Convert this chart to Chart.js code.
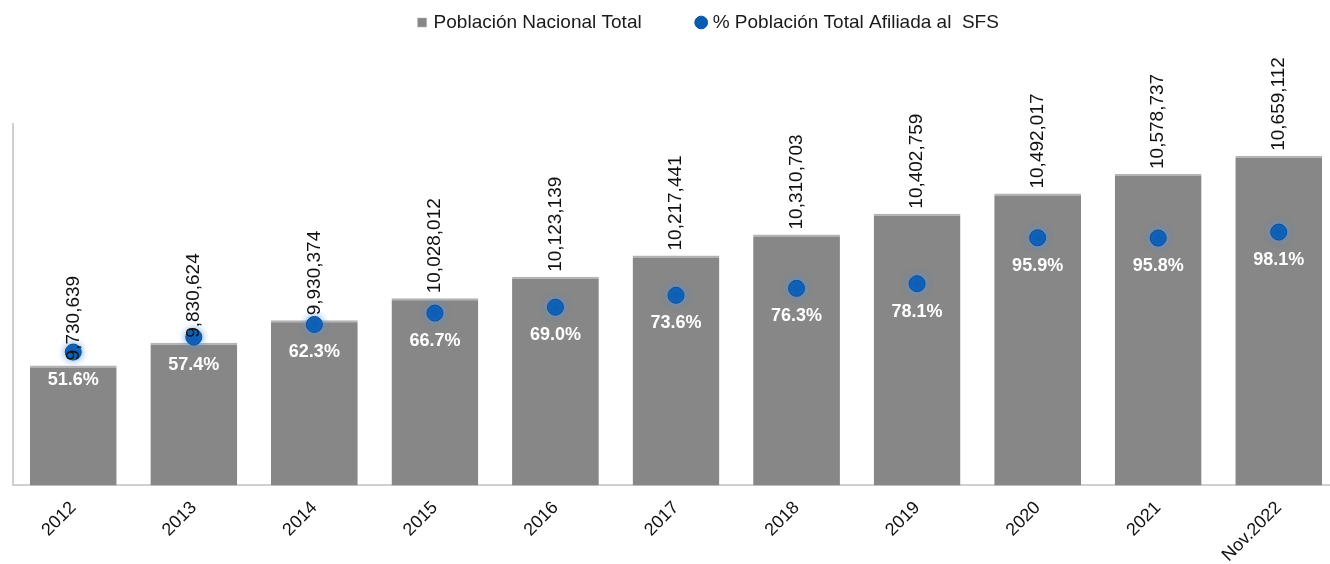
<!DOCTYPE html>
<html>
<head>
<meta charset="utf-8">
<script src="https://cdn.jsdelivr.net/npm/chart.js@4/dist/chart.umd.min.js"></script>
<style>
  html, body { margin: 0; padding: 0; background: #fff; overflow: hidden; }
  #wrap { width: 1348px; height: 564px; position: relative; }
</style>
</head>
<body>
<div id="wrap"><canvas id="chart"></canvas></div>
<script>
// datos
var years = ['2012', '2013', '2014', '2015', '2016', '2017', '2018', '2019', '2020', '2021', 'Nov.2022'];
var poblacion = [9730639, 9830624, 9930374, 10028012, 10123139, 10217441, 10310703, 10402759, 10492017, 10578737, 10659112];
var afiliados = [51.6, 57.4, 62.3, 66.7, 69.0, 73.6, 76.3, 78.1, 95.9, 95.8, 98.1];

var FONT = "'Liberation Sans', Arial, sans-serif";

// brillo alrededor de los puntos
var glowPlugin = {
    id: 'glow',
    beforeDatasetDraw: function(chart, args){
        if(args.index == 1){
            chart.ctx.save();
            chart.ctx.shadowColor = 'rgba(80,150,235,0.9)';
            chart.ctx.shadowBlur = 7;
        }
    },
    afterDatasetDraw: function(chart, args){
        if(args.index == 1){
            chart.ctx.restore();
        }
    }
};

// etiquetas de valores
var labelPlugin = {
    id: 'valueLabels',
    afterDatasetsDraw: function(chart){
        var ctx = chart.ctx;
        var bars = chart.getDatasetMeta(0).data;
        var dots = chart.getDatasetMeta(1).data;
        ctx.save();
        ctx.font = '19px ' + FONT;
        ctx.fillStyle = '#111';
        ctx.textAlign = 'left';
        ctx.textBaseline = 'middle';
        for(var i = 0; i < bars.length; i++){
            ctx.save();
            ctx.translate(bars[i].x, bars[i].y - 5);
            ctx.rotate(-Math.PI / 2);
            ctx.fillText(poblacion[i].toLocaleString('en-US'), 0, 0);
            ctx.restore();
        }
        ctx.font = 'bold 18px ' + FONT;
        ctx.fillStyle = '#fff';
        ctx.textAlign = 'center';
        for(var j = 0; j < dots.length; j++){
            ctx.fillText(afiliados[j].toFixed(1) + '%', dots[j].x, dots[j].y + 28);
        }
        ctx.restore();
    }
};

// mueve la leyenda (el lienzo es un poco mas ancho que la ventana)
var legendPlugin = {
    id: 'legendShift',
    afterLayout: function(chart){
        chart.legend.left += 33;
        chart.legend.right += 33;
    }
};

var ctx = document.getElementById('chart').getContext('2d');
var chart = new Chart(ctx, {
    type: 'bar',
    data: {
        labels: years,
        datasets: [{
            label: 'Población Nacional Total' + '\u00a0'.repeat(9),
            data: poblacion,
            backgroundColor: '#878787',
            borderColor: '#b4b4b4',
            borderWidth: {top: 2, left: 0, right: 0, bottom: 0},
            borderSkipped: 'bottom',
            barPercentage: 0.72,
            categoryPercentage: 1.0,
            pointStyle: 'rect',
            yAxisID: 'y',
            order: 1
        }, {
            type: 'line',
            label: '% Población Total Afiliada al  SFS',
            data: afiliados,
            showLine: false,
            pointRadius: 8,
            pointHoverRadius: 8,
            pointBackgroundColor: '#0a5cb2',
            pointBorderColor: '#0b4f98',
            pointBorderWidth: 1,
            backgroundColor: '#0a5cb2',
            borderColor: '#0a5cb2',
            pointStyle: 'circle',
            yAxisID: 'y2',
            order: 0
        }]
    },
    options: {
        responsive: true,
        maintainAspectRatio: false,
        animation: false,
        layout: { padding: {left: 5, right: 0, top: 3, bottom: -6} },
        plugins: {
            tooltip: { enabled: false },
            legend: {
                position: 'top',
                labels: {
                    usePointStyle: true,
                    boxHeight: 9,
                    boxWidth: 4,
                    color: '#1a1a1a',
                    font: { family: FONT, size: 19 },
                    sort: function(a, b){ return a.datasetIndex - b.datasetIndex; }
                }
            },
            // espacio vacio entre la leyenda y el grafico
            subtitle: {
                display: true,
                text: '',
                weight: 500,
                font: { size: 10 },
                padding: { top: 0, bottom: 70 }
            }
        },
        scales: {
            x: {
                grid: { display: false },
                border: { display: true, color: '#d0d0d0', width: 2 },
                ticks: {
                    color: '#111',
                    font: { family: FONT, size: 18 },
                    minRotation: 45,
                    maxRotation: 45,
                    padding: 4
                }
            },
            y: {
                min: 9200000,
                max: 10800000,
                grid: { display: false },
                border: { display: true, color: '#d0d0d0', width: 2 },
                ticks: { display: false }
            },
            y2: {
                display: false,
                min: 0,
                max: 140
            }
        }
    },
    plugins: [glowPlugin, labelPlugin, legendPlugin]
});
</script>
</body>
</html>
